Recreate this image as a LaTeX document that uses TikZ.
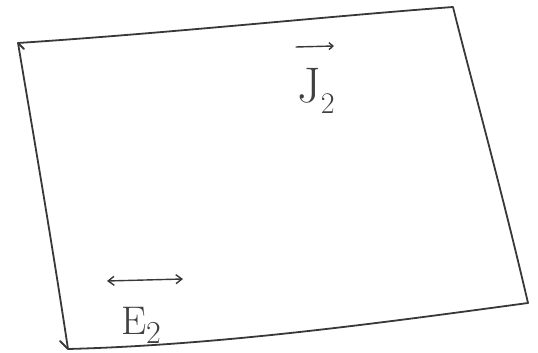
\documentclass[tikz,border=0pt]{standalone}
\usepackage{fontspec}
\setmainfont{Latin Modern Roman}
\usetikzlibrary{calc,arrows.meta}
\newcommand{\lowsub}[2]{\raisebox{-0.22em}{\fontsize{#1}{#1}\selectfont #2}}
\tikzset{
  pen/.style={draw=black!78, line width=1.8pt, line cap=round, line join=round},
  lbl/.style={inner sep=0pt, text=black!75},
}
\begin{document}
\begin{tikzpicture}[x=1pt,y=1pt]
\useasboundingbox (0,0) rectangle (538,353);
% corners (y flipped from image)
\coordinate (tl) at (18,310);
\coordinate (tr) at (453,346);
\coordinate (br) at (528,50);
\coordinate (bl) at (68,4);
\draw[pen] (tl) .. controls (170,320) and (320,336) .. (tr)
  .. controls (468,285) and (500,170) .. (br)
  .. controls (380,30) and (220,8) .. (bl)
  .. controls (52,110) and (34,215) .. (tl);
% small hand strokes at left corners
\draw[pen] (tl) -- ($(tl)+(6,-6)$);
\draw[pen] (bl) -- ($(bl)+(-8,8)$);
% labels
\node[lbl, anchor=center, font=\fontsize{50}{50}\selectfont] (J) at (316,262) {J\lowsub{30}{2}};
\coordinate (ja) at (296,306);
\coordinate (jb) at (334,307);
\draw[pen, line width=1.4pt, -{Straight Barb[length=4pt,width=7pt]}] (ja) -- (jb);
\node[lbl, anchor=center, font=\fontsize{40}{40}\selectfont] (E) at (141,28) {E\lowsub{32}{2}};
\coordinate (ea) at (107,72);
\coordinate (eb) at (183,74);
\draw[pen, line width=1.4pt, {Straight Barb[length=6pt,width=9pt]}-{Straight Barb[length=6pt,width=9pt]}] (ea) -- (eb);
\end{tikzpicture}
\end{document}
